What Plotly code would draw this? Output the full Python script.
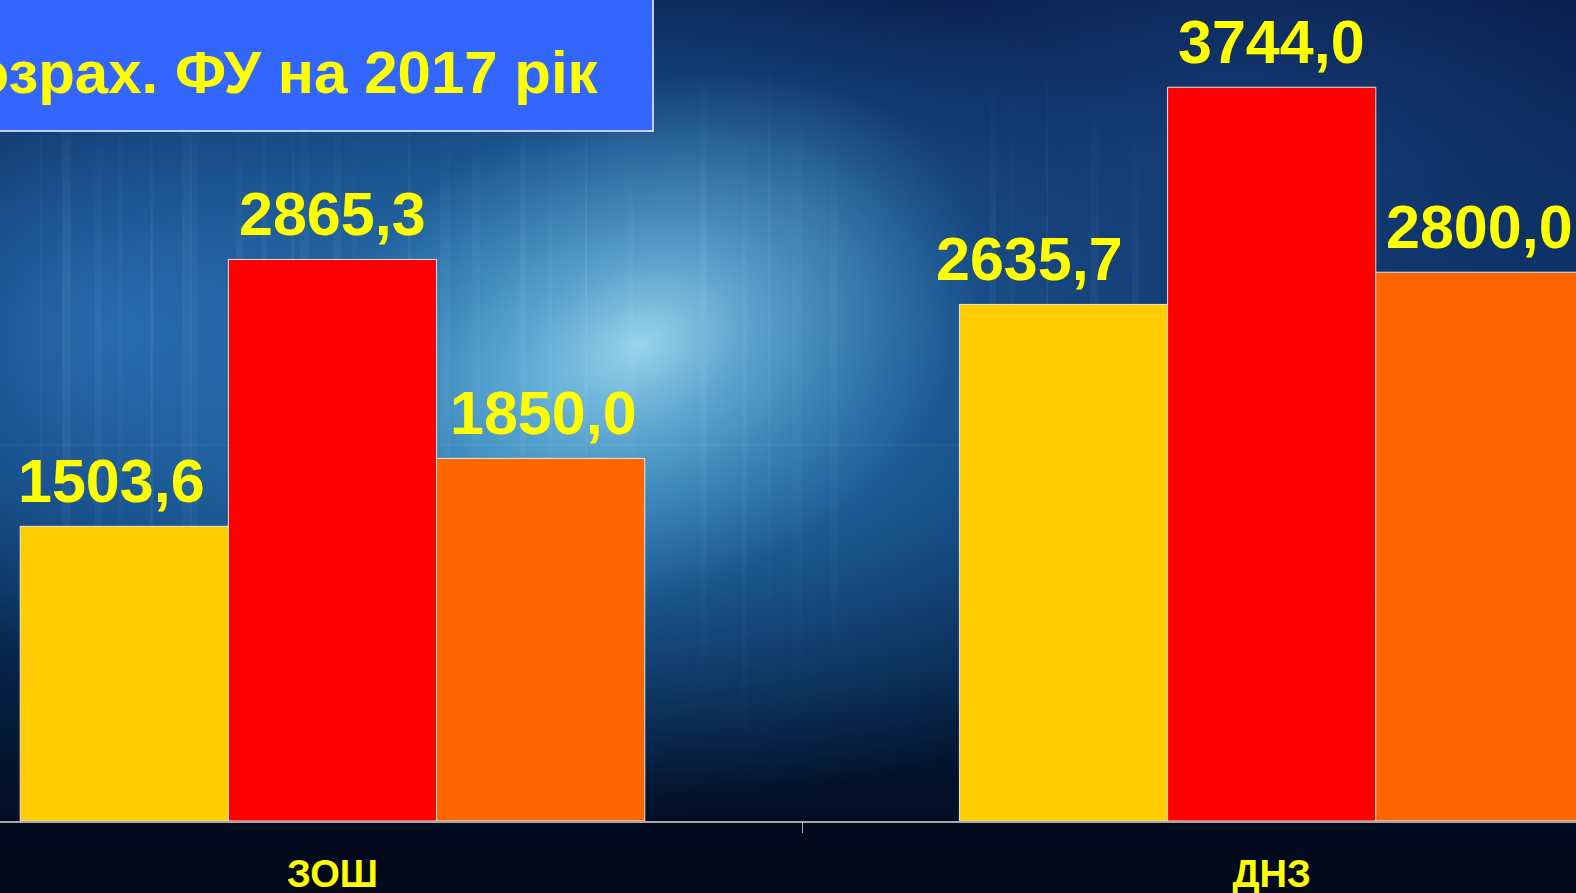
import base64
import plotly.graph_objects as go

# ---- data ----
categories = ["ЗОШ", "ДНЗ"]
series_names = ["Факт 2016", "Потреба 2017", "Розрах. ФУ на 2017 рік"]
values_a = [1503.6, 2635.7]
values_b = [2865.3, 3744.0]
values_c = [1850.0, 2800.0]
legend_text = "Розрах. ФУ на 2017 рік"

colors = ["#FFCC00", "#FF0000", "#FF6600"]
series_values = [values_a, values_b, values_c]
# small manual horizontal nudges of the value labels, as placed on the slide (px)
label_nudge = [[-13, -34], [0, 0], [3, 0]]

W, H = 1576, 893
MB = 72
PH = H - MB

# ---- background (decorative slide backdrop) ----
streak_x = [40, 62, 95, 118, 150, 182, 190, 236, 262, 292, 300, 334, 352, 408, 440, 472,
            520, 548, 585, 625, 700, 742, 768, 792, 830, 990, 1010, 1046, 1090, 1132, 1198, 1240]
streak_op = [0.5, 0.9, 0.6, 0.4, 1.0, 0.7, 0.5, 0.8, 0.6, 1.0, 0.5, 0.7, 0.4, 0.9, 0.6, 0.5,
             0.8, 0.6, 0.9, 0.5, 0.7, 0.5, 0.6, 0.4, 0.5, 0.6, 0.4, 0.7, 0.5, 0.6, 0.4, 0.5]
streaks = "".join(
    f'<rect x="{x}" y="{40 + (i * 37) % 90}" width="{2 + (i * 7) % 9}" height="{560 + (i * 53) % 140}" '
    f'fill="url(#st)" opacity="{o}"/>'
    for i, (x, o) in enumerate(zip(streak_x, streak_op))
)
svg = f'''<svg xmlns="http://www.w3.org/2000/svg" width="{W}" height="{H}" viewBox="0 0 {W} {H}" preserveAspectRatio="none">
<defs>
<linearGradient id="v" x1="0" y1="0" x2="0" y2="1">
<stop offset="0" stop-color="#0a2252"/>
<stop offset="0.3" stop-color="#0e3266"/>
<stop offset="0.55" stop-color="#0c3768"/>
<stop offset="0.75" stop-color="#062246"/>
<stop offset="0.88" stop-color="#03112a"/>
<stop offset="1" stop-color="#020a1a"/>
</linearGradient>
<radialGradient id="g0"><stop offset="0" stop-color="#3a94cc" stop-opacity="0.95"/><stop offset="0.5" stop-color="#2672b0" stop-opacity="0.6"/><stop offset="1" stop-color="#1a5a9a" stop-opacity="0"/></radialGradient>
<radialGradient id="g1"><stop offset="0" stop-color="#9fd8ee" stop-opacity="0.95"/><stop offset="0.35" stop-color="#78bfe0" stop-opacity="0.6"/><stop offset="1" stop-color="#4a9ed0" stop-opacity="0"/></radialGradient>
<radialGradient id="g2"><stop offset="0" stop-color="#2b72b6" stop-opacity="0.85"/><stop offset="1" stop-color="#1e5c9e" stop-opacity="0"/></radialGradient>
<radialGradient id="g3"><stop offset="0" stop-color="#1f4f8f" stop-opacity="0.6"/><stop offset="1" stop-color="#163c78" stop-opacity="0"/></radialGradient>
<linearGradient id="st" x1="0" y1="0" x2="0" y2="1">
<stop offset="0" stop-color="#ffffff" stop-opacity="0"/>
<stop offset="0.3" stop-color="#cfefff" stop-opacity="0.08"/>
<stop offset="0.7" stop-color="#cfefff" stop-opacity="0.05"/>
<stop offset="1" stop-color="#ffffff" stop-opacity="0"/>
</linearGradient>
</defs>
<rect x="0" y="0" width="{W}" height="{H}" fill="url(#v)"/>
<ellipse cx="560" cy="380" rx="760" ry="440" fill="url(#g0)"/>
<ellipse cx="120" cy="330" rx="380" ry="320" fill="url(#g2)"/>
<ellipse cx="1230" cy="160" rx="420" ry="260" fill="url(#g3)"/>
<ellipse cx="640" cy="345" rx="360" ry="250" fill="url(#g1)" transform="rotate(-25 640 345)"/>
<rect x="0" y="{PH}" width="{W}" height="{MB}" fill="#020b1c" opacity="0.85"/>
{streaks}
<rect x="0" y="444" width="{W}" height="2" fill="#ffffff" opacity="0.045"/>
</svg>'''
bg_src = "data:image/svg+xml;base64," + base64.b64encode(svg.encode("utf-8")).decode("ascii")

# ---- figure ----
fig = go.Figure()
for name, vals, col in zip(series_names, series_values, colors):
    fig.add_trace(go.Bar(
        x=categories, y=vals, name=name,
        marker=dict(color=col, line=dict(color="#e6e6e6", width=1)),
        hoverinfo="skip",
    ))

bargap = 0.335
bar_w = (1 - bargap) / len(series_values)
annotations = []
for i, vals in enumerate(series_values):
    for j, v in enumerate(vals):
        annotations.append(dict(
            x=j + (i - (len(series_values) - 1) / 2) * bar_w, y=v,
            xref="x", yref="y", xanchor="center", yanchor="bottom",
            yshift=9, xshift=label_nudge[i][j],
            text="<b>" + f"{v:.1f}".replace(".", ",") + "</b>", showarrow=False,
            font=dict(family="Liberation Sans, Arial, sans-serif", size=61, color="#FFFF00"),
        ))

# legend box (partially cropped at the left edge, as in the slide)
annotations.append(dict(
    x=601 / W, y=(PH - 73) / PH, xref="paper", yref="paper",
    xanchor="right", yanchor="middle", text=f"<b>{legend_text}</b>", showarrow=False,
    font=dict(family="Liberation Sans, Arial, sans-serif", size=60, color="#FFFF00"),
))

fig.update_layout(
    width=W, height=H,
    margin=dict(l=0, r=0, t=0, b=MB, pad=0, autoexpand=False),
    barmode="group", bargap=bargap, bargroupgap=0,
    paper_bgcolor="#04142e", plot_bgcolor="rgba(0,0,0,0)",
    showlegend=False,
    images=[dict(source=bg_src, xref="paper", yref="paper", x=0, y=1,
                 sizex=1, sizey=H / PH, xanchor="left", yanchor="top",
                 sizing="stretch", layer="below")],
    shapes=[dict(type="rect", xref="paper", yref="paper",
                 x0=-0.05, x1=653 / W, y0=(PH - 131) / PH, y1=1.05,
                 fillcolor="#3366FF", line=dict(color="#c8cce8", width=2), layer="above")],
    annotations=annotations,
    xaxis=dict(
        range=[-0.354, 1.324], showgrid=False, zeroline=False, automargin=False,
        showline=True, linecolor="#a8a8a8", linewidth=1.5,
        ticks="outside", tickson="boundaries", ticklen=10, tickwidth=1, tickcolor="#b0b0b0",
        ticklabelstandoff=19,
        tickfont=dict(family="Liberation Sans, Arial, sans-serif", size=38, color="#FFFF00"),
        fixedrange=True,
    ),
    yaxis=dict(range=[0, 4189], visible=False, showgrid=False, zeroline=False,
               automargin=False, fixedrange=True),
)
fig.update_xaxes(tickvals=categories, ticktext=[f"<b>{c}</b>" for c in categories])

fig.write_html(
    "out.html",
    config={"displayModeBar": False},
    post_script="document.body.style.margin='0';document.body.style.overflow='hidden';",
)
